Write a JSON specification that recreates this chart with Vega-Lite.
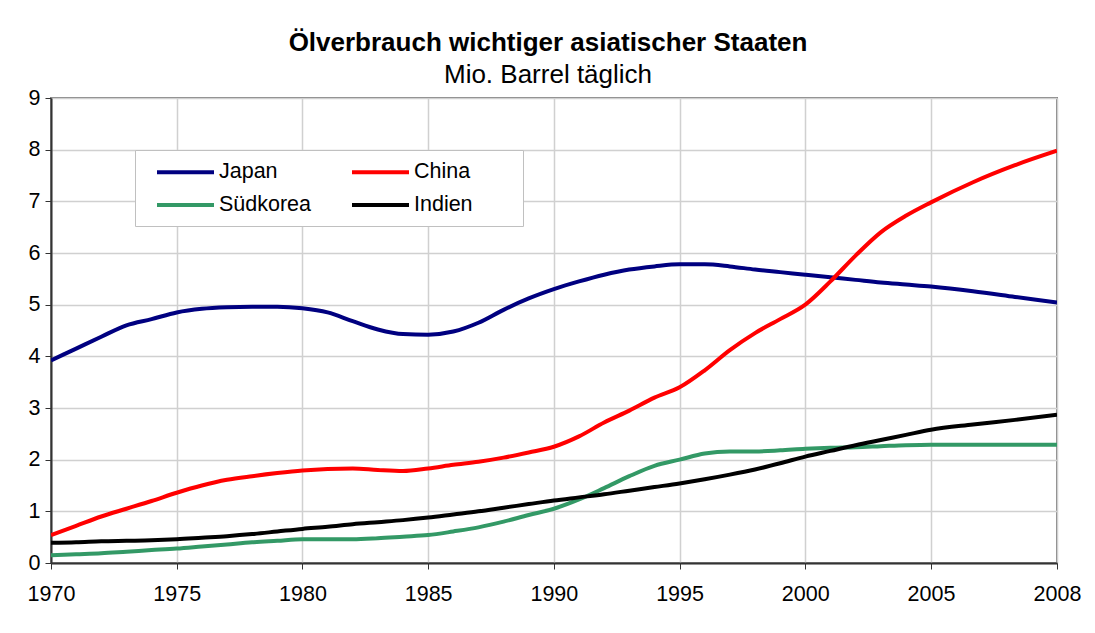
{
  "$schema": "https://vega.github.io/schema/vega-lite/v6.json",
  "width": 1006,
  "height": 465,
  "autosize": {"type": "none"},
  "padding": {"left": 51, "top": 98, "right": 38, "bottom": 70},
  "background": "white",
  "title": {
    "text": "Ölverbrauch wichtiger asiatischer Staaten",
    "subtitle": "Mio. Barrel täglich",
    "anchor": "middle",
    "dx": -6,
    "offset": -1,
    "font": "Liberation Sans",
    "fontSize": 26,
    "fontWeight": "bold",
    "color": "black",
    "subtitleFont": "Liberation Sans",
    "subtitleFontSize": 26,
    "subtitleColor": "black",
    "subtitlePadding": 6
  },
  "datasets": {
    "oil": [
      {"year": 1970, "country": "Japan", "value": 3.92}, {"year": 1971, "country": "Japan", "value": 4.15}, {"year": 1972, "country": "Japan", "value": 4.38}, {"year": 1973, "country": "Japan", "value": 4.6}, {"year": 1974, "country": "Japan", "value": 4.72}, {"year": 1975, "country": "Japan", "value": 4.85}, {"year": 1976, "country": "Japan", "value": 4.92}, {"year": 1977, "country": "Japan", "value": 4.95}, {"year": 1978, "country": "Japan", "value": 4.96}, {"year": 1979, "country": "Japan", "value": 4.96}, {"year": 1980, "country": "Japan", "value": 4.93}, {"year": 1981, "country": "Japan", "value": 4.85}, {"year": 1982, "country": "Japan", "value": 4.68}, {"year": 1983, "country": "Japan", "value": 4.52}, {"year": 1984, "country": "Japan", "value": 4.43}, {"year": 1985, "country": "Japan", "value": 4.42}, {"year": 1986, "country": "Japan", "value": 4.48}, {"year": 1987, "country": "Japan", "value": 4.65}, {"year": 1988, "country": "Japan", "value": 4.9}, {"year": 1989, "country": "Japan", "value": 5.12}, {"year": 1990, "country": "Japan", "value": 5.3}, {"year": 1991, "country": "Japan", "value": 5.45}, {"year": 1992, "country": "Japan", "value": 5.58}, {"year": 1993, "country": "Japan", "value": 5.68}, {"year": 1994, "country": "Japan", "value": 5.74}, {"year": 1995, "country": "Japan", "value": 5.78}, {"year": 1996, "country": "Japan", "value": 5.78}, {"year": 1997, "country": "Japan", "value": 5.74}, {"year": 1998, "country": "Japan", "value": 5.68}, {"year": 1999, "country": "Japan", "value": 5.63}, {"year": 2000, "country": "Japan", "value": 5.58}, {"year": 2001, "country": "Japan", "value": 5.53}, {"year": 2002, "country": "Japan", "value": 5.48}, {"year": 2003, "country": "Japan", "value": 5.43}, {"year": 2004, "country": "Japan", "value": 5.39}, {"year": 2005, "country": "Japan", "value": 5.35}, {"year": 2006, "country": "Japan", "value": 5.26}, {"year": 2007, "country": "Japan", "value": 5.15}, {"year": 2008, "country": "Japan", "value": 5.04},
      {"year": 1970, "country": "China", "value": 0.54}, {"year": 1971, "country": "China", "value": 0.72}, {"year": 1972, "country": "China", "value": 0.9}, {"year": 1973, "country": "China", "value": 1.05}, {"year": 1974, "country": "China", "value": 1.2}, {"year": 1975, "country": "China", "value": 1.36}, {"year": 1976, "country": "China", "value": 1.5}, {"year": 1977, "country": "China", "value": 1.61}, {"year": 1978, "country": "China", "value": 1.68}, {"year": 1979, "country": "China", "value": 1.74}, {"year": 1980, "country": "China", "value": 1.79}, {"year": 1981, "country": "China", "value": 1.82}, {"year": 1982, "country": "China", "value": 1.83}, {"year": 1983, "country": "China", "value": 1.8}, {"year": 1984, "country": "China", "value": 1.78}, {"year": 1985, "country": "China", "value": 1.83}, {"year": 1986, "country": "China", "value": 1.9}, {"year": 1987, "country": "China", "value": 1.96}, {"year": 1988, "country": "China", "value": 2.04}, {"year": 1989, "country": "China", "value": 2.14}, {"year": 1990, "country": "China", "value": 2.25}, {"year": 1991, "country": "China", "value": 2.45}, {"year": 1992, "country": "China", "value": 2.72}, {"year": 1993, "country": "China", "value": 2.95}, {"year": 1994, "country": "China", "value": 3.2}, {"year": 1995, "country": "China", "value": 3.4}, {"year": 1996, "country": "China", "value": 3.73}, {"year": 1997, "country": "China", "value": 4.12}, {"year": 1998, "country": "China", "value": 4.45}, {"year": 1999, "country": "China", "value": 4.72}, {"year": 2000, "country": "China", "value": 5.0}, {"year": 2001, "country": "China", "value": 5.45}, {"year": 2002, "country": "China", "value": 5.95}, {"year": 2003, "country": "China", "value": 6.4}, {"year": 2004, "country": "China", "value": 6.72}, {"year": 2005, "country": "China", "value": 6.98}, {"year": 2006, "country": "China", "value": 7.37}, {"year": 2007, "country": "China", "value": 7.7}, {"year": 2008, "country": "China", "value": 7.98},
      {"year": 1970, "country": "Südkorea", "value": 0.15}, {"year": 1971, "country": "Südkorea", "value": 0.17}, {"year": 1972, "country": "Südkorea", "value": 0.19}, {"year": 1973, "country": "Südkorea", "value": 0.22}, {"year": 1974, "country": "Südkorea", "value": 0.25}, {"year": 1975, "country": "Südkorea", "value": 0.28}, {"year": 1976, "country": "Südkorea", "value": 0.32}, {"year": 1977, "country": "Südkorea", "value": 0.36}, {"year": 1978, "country": "Südkorea", "value": 0.4}, {"year": 1979, "country": "Südkorea", "value": 0.43}, {"year": 1980, "country": "Südkorea", "value": 0.46}, {"year": 1981, "country": "Südkorea", "value": 0.46}, {"year": 1982, "country": "Südkorea", "value": 0.46}, {"year": 1983, "country": "Südkorea", "value": 0.48}, {"year": 1984, "country": "Südkorea", "value": 0.51}, {"year": 1985, "country": "Südkorea", "value": 0.54}, {"year": 1986, "country": "Südkorea", "value": 0.61}, {"year": 1987, "country": "Südkorea", "value": 0.69}, {"year": 1988, "country": "Südkorea", "value": 0.8}, {"year": 1989, "country": "Südkorea", "value": 0.93}, {"year": 1990, "country": "Südkorea", "value": 1.05}, {"year": 1991, "country": "Südkorea", "value": 1.23}, {"year": 1992, "country": "Südkorea", "value": 1.45}, {"year": 1993, "country": "Südkorea", "value": 1.68}, {"year": 1994, "country": "Südkorea", "value": 1.88}, {"year": 1995, "country": "Südkorea", "value": 2.0}, {"year": 1996, "country": "Südkorea", "value": 2.12}, {"year": 1997, "country": "Südkorea", "value": 2.16}, {"year": 1998, "country": "Südkorea", "value": 2.16}, {"year": 1999, "country": "Südkorea", "value": 2.18}, {"year": 2000, "country": "Südkorea", "value": 2.21}, {"year": 2001, "country": "Südkorea", "value": 2.23}, {"year": 2002, "country": "Südkorea", "value": 2.24}, {"year": 2003, "country": "Südkorea", "value": 2.26}, {"year": 2004, "country": "Südkorea", "value": 2.28}, {"year": 2005, "country": "Südkorea", "value": 2.29}, {"year": 2006, "country": "Südkorea", "value": 2.29}, {"year": 2007, "country": "Südkorea", "value": 2.29}, {"year": 2008, "country": "Südkorea", "value": 2.29},
      {"year": 1970, "country": "Indien", "value": 0.39}, {"year": 1971, "country": "Indien", "value": 0.4}, {"year": 1972, "country": "Indien", "value": 0.42}, {"year": 1973, "country": "Indien", "value": 0.43}, {"year": 1974, "country": "Indien", "value": 0.44}, {"year": 1975, "country": "Indien", "value": 0.46}, {"year": 1976, "country": "Indien", "value": 0.49}, {"year": 1977, "country": "Indien", "value": 0.52}, {"year": 1978, "country": "Indien", "value": 0.56}, {"year": 1979, "country": "Indien", "value": 0.61}, {"year": 1980, "country": "Indien", "value": 0.66}, {"year": 1981, "country": "Indien", "value": 0.7}, {"year": 1982, "country": "Indien", "value": 0.75}, {"year": 1983, "country": "Indien", "value": 0.79}, {"year": 1984, "country": "Indien", "value": 0.83}, {"year": 1985, "country": "Indien", "value": 0.88}, {"year": 1986, "country": "Indien", "value": 0.94}, {"year": 1987, "country": "Indien", "value": 1.0}, {"year": 1988, "country": "Indien", "value": 1.07}, {"year": 1989, "country": "Indien", "value": 1.14}, {"year": 1990, "country": "Indien", "value": 1.21}, {"year": 1991, "country": "Indien", "value": 1.27}, {"year": 1992, "country": "Indien", "value": 1.33}, {"year": 1993, "country": "Indien", "value": 1.4}, {"year": 1994, "country": "Indien", "value": 1.47}, {"year": 1995, "country": "Indien", "value": 1.54}, {"year": 1996, "country": "Indien", "value": 1.62}, {"year": 1997, "country": "Indien", "value": 1.71}, {"year": 1998, "country": "Indien", "value": 1.81}, {"year": 1999, "country": "Indien", "value": 1.93}, {"year": 2000, "country": "Indien", "value": 2.06}, {"year": 2001, "country": "Indien", "value": 2.17}, {"year": 2002, "country": "Indien", "value": 2.28}, {"year": 2003, "country": "Indien", "value": 2.38}, {"year": 2004, "country": "Indien", "value": 2.48}, {"year": 2005, "country": "Indien", "value": 2.58}, {"year": 2006, "country": "Indien", "value": 2.68}, {"year": 2007, "country": "Indien", "value": 2.77}, {"year": 2008, "country": "Indien", "value": 2.87}
    ]
  },
  "data": {"name": "oil"},
  "mark": {"type": "line", "strokeWidth": 4, "interpolate": "monotone", "clip": true},
  "encoding": {
    "x": {
      "field": "year",
      "type": "quantitative",
      "scale": {"domain": [1970, 2005, 2008], "range": [0, 880, 1006], "nice": false, "zero": false},
      "axis": {
        "title": null,
        "values": [1970, 1975, 1980, 1985, 1990, 1995, 2000, 2005, 2008],
        "format": "d",
        "labelFont": "Liberation Sans",
        "labelFontSize": 21.5,
        "labelColor": "black",
        "labelPadding": 14,
        "tickSize": 6,
        "tickColor": "#333333",
        "domainColor": "#333333",
        "domainWidth": 2,
        "grid": true,
        "gridColor": "#d0d0d0",
        "gridWidth": 1.5,
        "labelFlush": false
      }
    },
    "y": {
      "field": "value",
      "type": "quantitative",
      "scale": {"domain": [0, 9], "nice": false},
      "axis": {
        "title": null,
        "values": [0, 1, 2, 3, 4, 5, 6, 7, 8, 9],
        "labelFont": "Liberation Sans",
        "labelFontSize": 21.5,
        "labelColor": "black",
        "labelPadding": 5,
        "tickSize": 6,
        "tickColor": "#333333",
        "domainColor": "#333333",
        "domainWidth": 2,
        "grid": true,
        "gridColor": "#d0d0d0",
        "gridWidth": 1.5
      }
    },
    "color": {
      "field": "country",
      "type": "nominal",
      "sort": ["Japan", "China", "Südkorea", "Indien"],
      "scale": {"domain": ["Japan", "China", "Südkorea", "Indien"], "range": ["#000080", "#ff0000", "#339966", "#000000"]},
      "legend": {
        "title": null,
        "orient": "none",
        "legendX": 84,
        "legendY": 52,
        "columns": 2,
        "direction": "horizontal",
        "symbolType": "M0,0H5.7M15.3,0",
        "symbolSize": 400,
        "symbolStrokeWidth": 4,
        "labelFont": "Liberation Sans",
        "labelFontSize": 21.5,
        "labelColor": "black",
        "labelOffset": 50,
        "columnPadding": 22,
        "rowPadding": 10,
        "padding": 10,
        "fillColor": "white",
        "strokeColor": "#c0c0c0"
      }
    }
  },
  "config": {
    "view": {"stroke": "#808080", "strokeWidth": 2},
    "axis": {"gridOpacity": 1}
  }
}
